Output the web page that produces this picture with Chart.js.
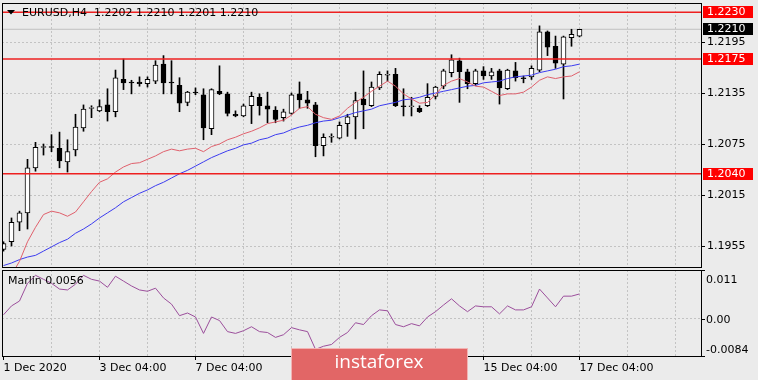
<!DOCTYPE html>
<html><head><meta charset="utf-8">
<script src="https://cdn.jsdelivr.net/npm/chart.js@4.4.0/dist/chart.umd.min.js"></script>
<style>
html,body{margin:0;padding:0;background:#ebebeb;}
#wrap{position:relative;width:758px;height:380px;overflow:hidden;background:#ebebeb;}
#c1{position:absolute;left:0;top:0;}
#c2{position:absolute;left:0;top:268px;}
</style></head><body>
<div id="wrap"><canvas id="c1" width="758" height="268"></canvas><canvas id="c2" width="758" height="112"></canvas></div>
<script>
// ---------------- DATA ----------------
const headerText = 'EURUSD,H4  1.2202 1.2210 1.2201 1.2210';
const indicatorName = 'Marlin';
const indicatorValueText = '0.0056';
const watermarkText = 'instaforex';
const days = ['1 Dec','2 Dec','3 Dec','4 Dec','7 Dec','8 Dec','9 Dec','10 Dec','11 Dec','14 Dec','15 Dec','16 Dec','17 Dec'];
const hours = ['00:00','04:00','08:00','12:00','16:00','20:00'];
const xTickLabels = ['1 Dec 2020','3 Dec 04:00','7 Dec 04:00','9 Dec 04:00','11 Dec 04:00','15 Dec 04:00','17 Dec 04:00'];

const opens = [
 1.1951,1.1960,1.1983,1.1994,1.2047,1.2071,1.2072,1.2070,1.2054,1.2068,
 1.2094,1.2117,1.2114,1.2121,1.2113,1.2151,1.2148,1.2148,1.2146,1.2149,
 1.2169,1.2148,1.2144,1.2124,1.2136,1.2133,1.2093,1.2137,1.2134,1.2110,
 1.2108,1.2120,1.2130,1.2120,1.2115,1.2106,1.2111,1.2134,1.2127,1.2121,
 1.2073,1.2083,1.2082,1.2099,1.2107,1.2128,1.2120,1.2141,1.2156,1.2157,
 1.2120,1.2119,1.2117,1.2120,1.2131,1.2143,1.2159,1.2173,1.2160,1.2146,
 1.2161,1.2155,1.2161,1.2140,1.2161,1.2153,1.2154,1.2162,1.2207,1.2190,
 1.2169,1.2200,1.2202];
const highs = [
 1.1960,1.1988,1.1996,1.2057,1.2077,1.2075,1.2086,1.2089,1.2080,1.2110,
 1.2121,1.2120,1.2127,1.2140,1.2162,1.2175,1.2150,1.2154,1.2154,1.2173,
 1.2179,1.2173,1.2153,1.2137,1.2141,1.2140,1.2140,1.2167,1.2136,1.2114,
 1.2122,1.2136,1.2134,1.2136,1.2119,1.2116,1.2135,1.2148,1.2137,1.2124,
 1.2087,1.2087,1.2101,1.2110,1.2136,1.2161,1.2148,1.2160,1.2161,1.2164,
 1.2140,1.2130,1.2120,1.2146,1.2143,1.2163,1.2180,1.2176,1.2163,1.2163,
 1.2166,1.2164,1.2163,1.2163,1.2171,1.2155,1.2167,1.2214,1.2208,1.2202,
 1.2202,1.2210,1.2210];
const lows = [
 1.1949,1.1955,1.1973,1.1975,1.2043,1.2062,1.2066,1.2047,1.2042,1.2061,
 1.2090,1.2106,1.2113,1.2102,1.2107,1.2139,1.2134,1.2143,1.2142,1.2146,
 1.2134,1.2134,1.2113,1.2120,1.2133,1.2080,1.2086,1.2133,1.2108,1.2107,
 1.2107,1.2099,1.2109,1.2100,1.2100,1.2102,1.2110,1.2117,1.2117,1.2060,
 1.2061,1.2077,1.2081,1.2084,1.2081,1.2093,1.2119,1.2139,1.2149,1.2119,
 1.2108,1.2108,1.2112,1.2119,1.2128,1.2140,1.2154,1.2124,1.2140,1.2144,
 1.2151,1.2151,1.2122,1.2139,1.2149,1.2147,1.2151,1.2160,1.2179,1.2164,
 1.2128,1.2190,1.2201];
const closes = [
 1.1958,1.1983,1.1994,1.2047,1.2071,1.2072,1.2071,1.2055,1.2066,1.2095,
 1.2116,1.2118,1.2119,1.2113,1.2153,1.2147,1.2147,1.2146,1.2151,1.2168,
 1.2147,1.2147,1.2123,1.2136,1.2135,1.2094,1.2139,1.2134,1.2111,1.2108,
 1.2120,1.2131,1.2120,1.2116,1.2104,1.2113,1.2133,1.2127,1.2123,1.2073,
 1.2083,1.2084,1.2097,1.2107,1.2126,1.2121,1.2142,1.2157,1.2157,1.2120,
 1.2119,1.2120,1.2113,1.2130,1.2142,1.2161,1.2174,1.2160,1.2146,1.2161,
 1.2155,1.2160,1.2141,1.2162,1.2153,1.2152,1.2164,1.2207,1.2189,1.2170,
 1.2201,1.2204,1.2210];
// red moving average
const maFast = [
 null,1.1921,1.1937,1.1960,1.1977,1.1992,1.1996,1.1994,1.1990,1.1995,
 1.2007,1.2019,1.2030,1.2034,1.2042,1.2048,1.2052,1.2053,1.2057,1.2061,
 1.2066,1.2069,1.2067,1.2069,1.2070,1.2066,1.2072,1.2075,1.2080,1.2083,
 1.2087,1.2090,1.2094,1.2099,1.2101,1.2103,1.2109,1.2117,1.2119,1.2110,
 1.2106,1.2104,1.2108,1.2117,1.2124,1.2130,1.2137,1.2143,1.2149,1.2143,
 1.2134,1.2128,1.2123,1.2124,1.2133,1.2144,1.2149,1.2152,1.2148,1.2143,
 1.2142,1.2137,1.2132,1.2134,1.2134,1.2136,1.2142,1.2150,1.2154,1.2152,
 1.2154,1.2155,1.2160];
// blue moving average
const maSlow = [
 1.1932,1.1935,1.1939,1.1942,1.1944,1.1949,1.1954,1.1959,1.1963,1.1970,
 1.1975,1.1981,1.1988,1.1994,1.2000,1.2007,1.2012,1.2017,1.2021,1.2026,
 1.2030,1.2035,1.2040,1.2044,1.2049,1.2054,1.2059,1.2063,1.2067,1.2070,
 1.2074,1.2076,1.2080,1.2082,1.2086,1.2088,1.2092,1.2095,1.2097,1.2100,
 1.2102,1.2103,1.2106,1.2109,1.2112,1.2114,1.2116,1.2120,1.2122,1.2124,
 1.2127,1.2128,1.2130,1.2133,1.2135,1.2137,1.2139,1.2141,1.2143,1.2144,
 1.2147,1.2148,1.2149,1.2152,1.2154,1.2155,1.2156,1.2159,1.2161,1.2163,
 1.2166,1.2167,1.2169];
const marlin = [
 0.0009,0.0029,0.0040,0.0080,0.0098,0.0089,0.0080,0.0067,0.0065,0.0078,
 0.0098,0.0089,0.0085,0.0071,0.0096,0.0085,0.0074,0.0065,0.0062,0.0069,
 0.0047,0.0033,0.0007,0.0013,0.0004,-0.0033,0.0004,-0.0004,-0.0029,-0.0033,
 -0.0027,-0.0018,-0.0029,-0.0031,-0.0042,-0.0036,-0.0020,-0.0025,-0.0029,-0.0069,
 -0.0062,-0.0058,-0.0042,-0.0031,-0.0009,-0.0013,0.0007,0.0020,0.0018,-0.0013,
 -0.0018,-0.0011,-0.0016,0.0004,0.0016,0.0031,0.0045,0.0029,0.0016,0.0029,
 0.0027,0.0027,0.0011,0.0029,0.0020,0.0020,0.0027,0.0067,0.0047,0.0027,
 0.0051,0.0051,0.0056];
const levels = [1.2230, 1.2175, 1.2040];
const bidPrice = 1.2210;
const priceTicks = [1.1955, 1.2015, 1.2075, 1.2135, 1.2195];
const marlinTicks = [-0.0084, 0, 0.011];
const marlinTickText = ['-0.0084', '0.00', '0.011'];

// ---------------- SETUP ----------------
const barTimes = [];
days.forEach(d => hours.forEach(h => barTimes.push(d + ' ' + h)));
const categories = barTimes.slice(1, 1 + opens.length);

const BG = '#ebebeb';
const GRID = '#c3c3c3';
const FONT = 'DejaVu Sans';
const XMIN = -0.1875, XMAX = 87.1875;
const PMIN = 1.19303, PMAX = 1.22409;
const gridIdx = [];
for (let k = 0; k <= 14; k++) gridIdx.push(k * 6);

Chart.defaults.font.family = FONT;
Chart.defaults.font.size = 11;
Chart.defaults.color = '#000';

const idx = opens.map((_, i) => i);
const wickData = idx.map(i => ({x: i, y: [lows[i], highs[i]]}));
const bodyData = idx.map(i => ({x: i, y: [opens[i], closes[i]]}));
const bodyColors = idx.map(i => closes[i] >= opens[i] ? '#ffffff' : '#000000');

const bgPlugin = {
  id: 'bg',
  beforeDraw(chart) {
    const c = chart.ctx; c.save(); c.fillStyle = BG; c.fillRect(0, 0, chart.width, chart.height); c.restore();
  }
};

const mainDecor = {
  id: 'mainDecor',
  afterDraw(chart) {
    const {ctx, chartArea: a} = chart;
    const y = chart.scales.y;
    ctx.save();
    ctx.strokeStyle = '#000'; ctx.lineWidth = 1;
    ctx.strokeRect(a.left + 0.5, a.top + 0.5, a.right - a.left, a.bottom - a.top);
    // header
    ctx.fillStyle = '#000';
    ctx.beginPath(); ctx.moveTo(7, 10); ctx.lineTo(15, 10); ctx.lineTo(11, 14.5); ctx.closePath(); ctx.fill();
    ctx.font = '11px ' + FONT; ctx.textBaseline = 'middle'; ctx.textAlign = 'left';
    ctx.fillText(headerText, 22, 13);
    // price boxes on axis
    const boxes = levels.map(v => ({v, bg: '#ff0000'})).concat([{v: bidPrice, bg: '#000000'}]);
    boxes.forEach(b => {
      const py = Math.round(y.getPixelForValue(b.v));
      ctx.fillStyle = b.bg; ctx.fillRect(703, py - 6, 50, 12);
      ctx.fillStyle = '#ffffff'; ctx.fillText(b.v.toFixed(4), 707, py + 0.5);
    });
    ctx.restore();
  }
};

const lineDs = (data, color, order, w) => ({
  type: 'line', data, borderColor: color, borderWidth: w || 1, pointRadius: 0, tension: 0, order, spanGaps: false
});

new Chart(document.getElementById('c1'), {
  type: 'bar',
  data: {
    datasets: [
      lineDs([{x: XMIN, y: bidPrice}, {x: XMAX, y: bidPrice}], '#c0c0c0', 9),
      {type: 'bar', data: wickData, backgroundColor: '#000', barThickness: 1, grouped: false, order: 5},
      {type: 'bar', data: bodyData, backgroundColor: bodyColors, borderColor: '#000', borderWidth: 1,
       borderSkipped: false, barThickness: 5, grouped: false, order: 4},
      lineDs(idx.map(i => ({x: i, y: maSlow[i]})), '#3c3cf0', 3),
      lineDs(idx.map(i => ({x: i, y: maFast[i]})), '#e0606c', 2),
      ...levels.map(v => lineDs([{x: XMIN, y: v}, {x: XMAX, y: v}], '#ee2020', 1, 1.4))
    ]
  },
  options: {
    responsive: false, animation: false, devicePixelRatio: 1,
    layout: {padding: {left: 2, top: 3, right: 0, bottom: 0}},
    plugins: {legend: {display: false}, tooltip: {enabled: false}},
    scales: {
      x: {
        type: 'linear', min: XMIN, max: XMAX, offset: false,
        afterBuildTicks: s => { s.ticks = gridIdx.map(v => ({value: v})); },
        ticks: {display: false},
        grid: {offset: false, drawTicks: false, color: c => (c.tick && c.tick.value > 0) ? GRID : 'transparent'},
        border: {display: false, dash: [2, 2]},
        afterFit: s => { s.height = 1; s.paddingLeft = 0; s.paddingRight = 0; }
      },
      y: {
        position: 'right', min: PMIN, max: PMAX,
        afterBuildTicks: s => { s.ticks = priceTicks.map(v => ({value: v})); },
        ticks: {padding: 2, color: '#000', font: {family: FONT, size: 11}, callback: v => Number(v).toFixed(4)},
        grid: {color: GRID, tickColor: '#000', tickLength: 4, tickBorderDash: []},
        border: {display: false, dash: [2, 2]},
        afterFit: s => { s.width = 57; s.paddingTop = 0; s.paddingBottom = 0; }
      }
    }
  },
  plugins: [bgPlugin, mainDecor]
});

const subDecor = {
  id: 'subDecor',
  afterDraw(chart) {
    const {ctx, chartArea: a} = chart;
    const y = chart.scales.y;
    ctx.save();
    ctx.strokeStyle = '#000'; ctx.lineWidth = 1;
    ctx.strokeRect(a.left + 0.5, a.top + 0.5, a.right - a.left, a.bottom - a.top);
    ctx.font = '11px ' + FONT; ctx.textBaseline = 'middle'; ctx.textAlign = 'left'; ctx.fillStyle = '#000';
    ctx.fillText(indicatorName + ' ' + indicatorValueText, 8, 13);
    marlinTicks.forEach((v, k) => {
      const py = y.getPixelForValue(v);
      ctx.fillRect(a.right + 1, Math.round(py), 3, 1);
      let ty = py;
      if (k === 0) ty = py - 7; else if (k === marlinTicks.length - 1) ty = py + 9;
      ctx.fillText(marlinTickText[k], 706, ty + 1);
    });
    // watermark
    ctx.fillStyle = '#e26666';
    ctx.fillRect(291, 80, 177, 40);
    ctx.strokeStyle = '#f2b4b4'; ctx.lineWidth = 1;
    ctx.strokeRect(291.5, 80.5, 176, 40);
    ctx.fillStyle = '#ffffff'; ctx.font = '19px "Open Sans"'; ctx.textAlign = 'center';
    ctx.fillText(watermarkText, 379, 95);
    ctx.restore();
  }
};

new Chart(document.getElementById('c2'), {
  type: 'line',
  data: {
    datasets: [lineDs(idx.map(i => ({x: i, y: marlin[i]})), '#9c4f9c', 1)]
  },
  options: {
    responsive: false, animation: false, devicePixelRatio: 1,
    layout: {padding: {left: 2, top: 2, right: 0, bottom: 0}},
    plugins: {legend: {display: false}, tooltip: {enabled: false}},
    scales: {
      x: {
        type: 'linear', min: XMIN, max: XMAX, offset: false,
        afterBuildTicks: s => { s.ticks = gridIdx.map(v => ({value: v})); },
        ticks: {display: true, autoSkip: false, maxRotation: 0, align: 'start', padding: 2, color: '#000',
          font: {family: FONT, size: 11},
          callback: v => (v % 12 === 0 && v / 12 < xTickLabels.length) ? xTickLabels[v / 12] : ''},
        grid: {offset: false, tickLength: 4, tickBorderDash: [],
          color: c => (c.tick && c.tick.value > 0) ? GRID : 'transparent',
          tickColor: c => (c.tick && c.tick.value % 12 === 0 && c.tick.value / 12 < xTickLabels.length) ? '#000' : 'transparent'},
        border: {display: false, dash: [2, 2]},
        afterFit: s => { s.height = 24; s.paddingLeft = 0; s.paddingRight = 0; }
      },
      y: {
        position: 'right', min: -0.0084, max: 0.011,
        afterBuildTicks: s => { s.ticks = marlinTicks.map(v => ({value: v})); },
        ticks: {display: false},
        grid: {drawTicks: false, color: c => (c.tick && c.tick.value === 0) ? GRID : 'transparent'},
        border: {display: false, dash: [2, 2]},
        afterFit: s => { s.width = 57; s.paddingTop = 0; s.paddingBottom = 0; }
      }
    }
  },
  plugins: [bgPlugin, subDecor]
});
</script>
</body></html>
